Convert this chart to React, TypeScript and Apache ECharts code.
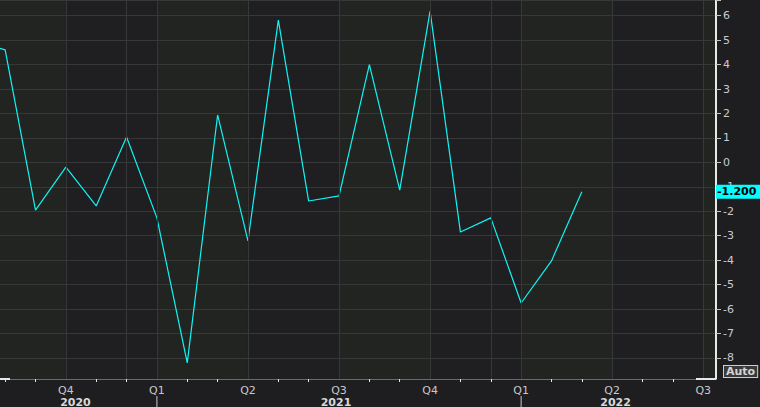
import React, { useEffect, useRef } from "react";
import * as echarts from "echarts";

// ---- data (month index 0 = Jul 2020) ----
const months = [
  "Jul 2020", "Aug 2020", "Sep 2020", "Oct 2020", "Nov 2020", "Dec 2020",
  "Jan 2021", "Feb 2021", "Mar 2021", "Apr 2021", "May 2021", "Jun 2021",
  "Jul 2021", "Aug 2021", "Sep 2021", "Oct 2021", "Nov 2021", "Dec 2021",
  "Jan 2022", "Feb 2022", "Mar 2022",
];
const values = [
  5.0, 4.6, -1.95, -0.19, -1.78, 1.04,
  -2.27, -8.2, 1.94, -3.21, 5.82, -1.58,
  -1.37, 4.0, -1.13, 6.19, -2.85, -2.27,
  -5.75, -4.03, -1.2,
];
const quarterTicks = [0, 3, 6, 9, 12, 15, 18, 21, 24];
const labelTicks = [3, 6, 9, 12, 15, 18, 21, 24];
const quarterLabels = ["Q4", "Q1", "Q2", "Q3", "Q4", "Q1", "Q2", "Q3"];
const extraGridMonths = [5, 17];
const yearLabels = ["2020", "2021", "2022"];
const yearStartMonths = [-6, 6, 18];

const X_MIN = 0;
const X_MAX = 24.42;
const Y_MIN = -9;
const Y_MAX = 6.642;

const FONT = "DejaVu Sans";
const BG = "#1e1e20";
const GREEN_BAND = "#222421";
const DARK_BAND = "#1f1f22";
const GRID_COLOR = "#363738";

export default function App() {
  const ref = useRef<HTMLDivElement>(null);

  useEffect(() => {
    if (!ref.current) return;
    const chart = echarts.init(ref.current, null, { renderer: "svg" });
    const last = values[values.length - 1];

    const bands: [number, number][] = [];
    for (let i = 0; i < quarterTicks.length; i++) {
      const s = quarterTicks[i];
      const e = i + 1 < quarterTicks.length ? quarterTicks[i + 1] : X_MAX;
      bands.push([s, e]);
    }
    const vLines = [...quarterTicks, ...extraGridMonths];

    const option: any = {
      animation: false,
      backgroundColor: BG,
      textStyle: { fontFamily: FONT },
      grid: {
        left: -25.2,
        right: 44,
        top: 0,
        bottom: 24.55,
        containLabel: false,
        outerBoundsMode: "none",
      },
      xAxis: {
        type: "value",
        min: X_MIN,
        max: X_MAX,
        interval: 3,
        z: 20,
        offset: -3.45,
        axisLine: { show: true, onZero: false, lineStyle: { color: "#6a6a6a", width: 1 } },
        axisTick: { show: false },
        minorTick: {
          show: true,
          splitNumber: 3,
          length: 3,
          lineStyle: { color: "#e6e6e6", width: 1 },
        },
        splitLine: { show: false },
        minorSplitLine: { show: false },
        axisLabel: {
          margin: 6,
          color: "#c8c8c8",
          fontSize: 11,
          fontFamily: FONT,
          hideOverlap: false,
          formatter: (v: number) => {
            const r = Math.round(v);
            if (Math.abs(v - r) > 1e-6) return "";
            const i = labelTicks.indexOf(r);
            return i >= 0 ? quarterLabels[i] : "";
          },
        },
      },
      yAxis: {
        type: "value",
        position: "right",
        min: Y_MIN,
        max: Y_MAX,
        interval: 1,
        z: 2,
        axisLine: { show: true, onZero: false, lineStyle: { color: "#e8e8e8", width: 2 } },
        axisTick: { show: true, length: 5, lineStyle: { color: "#c4c4c4", width: 1 } },
        axisLabel: {
          margin: 7,
          color: "#c5cad6",
          fontSize: 11,
          fontFamily: FONT,
          formatter: (v: number) => {
            const r = Math.round(v);
            if (Math.abs(v - r) > 1e-6 || r < -8) return "";
            return String(r);
          },
        },
        splitLine: { show: true, lineStyle: { color: GRID_COLOR, width: 1 } },
      },
      series: [
        {
          type: "line",
          data: [],
          z: 1,
          silent: true,
          markArea: {
            silent: true,
            data: bands.map(([s, e], i) => [
              { xAxis: s, itemStyle: { color: i % 2 === 0 ? GREEN_BAND : DARK_BAND } },
              { xAxis: e },
            ]),
          },
        },
        {
          type: "line",
          data: [],
          z: 1.5,
          silent: true,
          markLine: {
            silent: true,
            symbol: ["none", "none"],
            label: { show: false },
            lineStyle: { color: GRID_COLOR, width: 1, type: "solid" },
            data: vLines.map((x) => ({ xAxis: x })),
          },
        },
        {
          type: "line",
          name: "value",
          z: 3,
          data: values.map((v, i) => [i, v]),
          showSymbol: false,
          symbol: "none",
          lineStyle: { color: "#10f4f4", width: 1.2 },
          markLine: {
            silent: true,
            symbol: ["none", "none"],
            lineStyle: { color: "rgba(0,0,0,0)", width: 0, type: "solid" },
            label: {
              show: true,
              position: "end",
              distance: 0,
              formatter: () => last.toFixed(3),
              backgroundColor: "#00ffff",
              color: "#000000",
              opacity: 1,
              fontWeight: "bold",
              fontSize: 11,
              fontFamily: FONT,
              padding: [2, 6, 1, 1],
            },
            data: [{ yAxis: last }],
          },
        },
      ],
    };

    chart.setOption(option);

    const px = (x: number) => chart.convertToPixel({ xAxisIndex: 0 }, x) as number;
    const py = (y: number) => chart.convertToPixel({ yAxisIndex: 0 }, y) as number;
    const rightX = px(X_MAX);
    const axisY = py(Y_MIN) - 3.45;
    const clamp = (v: number) => Math.max(0, Math.min(rightX, v));

    const graphics: any[] = [
      {
        type: "rect",
        z: 10,
        shape: { x: 0, y: axisY + 0.5, width: 760, height: 407 - axisY },
        style: { fill: BG },
        silent: true,
      },
      {
        type: "line",
        z: 30,
        shape: { x1: rightX - 20, y1: axisY, x2: rightX, y2: axisY },
        style: { stroke: "#e8e8e8", lineWidth: 2 },
      },
      {
        type: "line",
        z: 30,
        shape: { x1: 0, y1: axisY, x2: 10, y2: axisY },
        style: { stroke: "#e8e8e8", lineWidth: 2 },
      },
      {
        type: "text",
        z: 30,
        x: rightX + 8,
        y: axisY - 13,
        style: {
          text: "Auto",
          fill: "#d4d4d4",
          font: `bold 11px "${FONT}"`,
          backgroundColor: "#3a3a3a",
          borderColor: "#cfcfcf",
          borderWidth: 1,
          padding: [0, 2, 0, 2],
        },
      },
    ];

    yearLabels.forEach((yl, i) => {
      const start = yearStartMonths[i];
      const sx = px(start);
      const ex = px(start + 12);
      if (sx > 0 && sx < rightX) {
        graphics.push({
          type: "line",
          z: 30,
          shape: { x1: sx, y1: axisY + 17, x2: sx, y2: 407 },
          style: { stroke: "#c8c8c8", lineWidth: 1 },
        });
      }
      graphics.push({
        type: "text",
        z: 30,
        x: (clamp(sx) + clamp(ex)) / 2 - 3,
        y: axisY + 23,
        style: {
          text: yl,
          fill: "#d8d8d8",
          font: `bold 11px "${FONT}"`,
          align: "center",
          verticalAlign: "middle",
        },
      });
    });

    chart.setOption({ graphic: graphics });

    return () => chart.dispose();
  }, []);

  return (
    <div
      ref={ref}
      style={{ position: "fixed", left: 0, top: 0, width: 760, height: 407, background: BG }}
    />
  );
}
